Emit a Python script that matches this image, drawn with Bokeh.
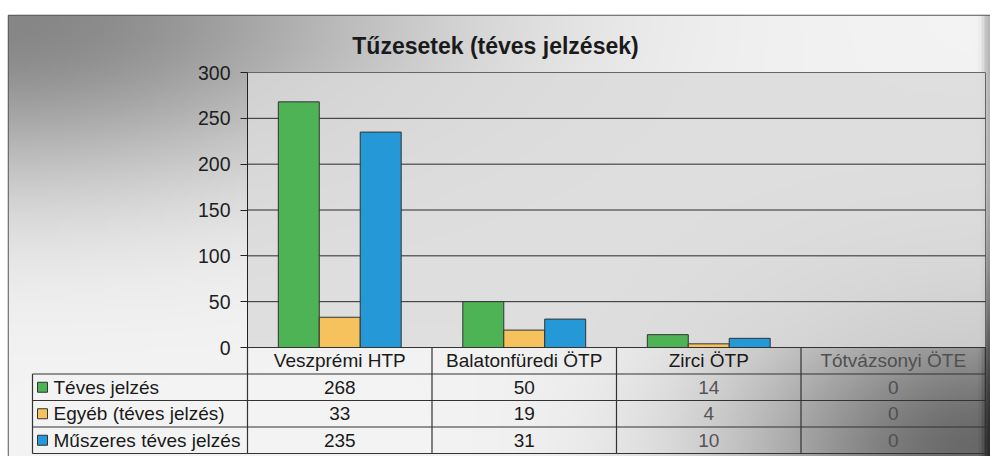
import numpy as np
from bokeh.plotting import figure
from bokeh.models import Range1d, FixedTicker, ColumnDataSource, Label
from bokeh.transform import dodge
from bokeh.core.properties import value
from bokeh.embed import file_html
from bokeh.resources import INLINE

# ---------------- data ----------------
categories = ["Veszprémi HTP", "Balatonfüredi ÖTP", "Zirci ÖTP", "Tótvázsonyi ÖTE"]
series_names = ["Téves jelzés", "Egyéb (téves jelzés)", "Műszeres téves jelzés"]
teves = [268, 50, 14, 0]
egyeb = [33, 19, 4, 0]
muszeres = [235, 31, 10, 0]
y_ticks = [0, 50, 100, 150, 200, 250, 300]
title_text = "Tűzesetek (téves jelzések)"

# ---------------- styles / layout ----------------
colors = ["#4db354", "#f5c25e", "#2599d8"]
FONT = "Liberation Sans"
W, H = 990, 456
FRAME_L, FRAME_R = 8, 990      # page px
FRAME_T, FRAME_B = 15, 456
AX_X, PLOT_R = 247, 985         # page x of category 0 and of the plot's right edge
ZERO_Y, TOP_Y = 347, 72         # page y of value 0 and top tick
ROW_H = 26.5

n = len(categories)
PXX = (PLOT_R - AX_X) / n
PXY = (ZERO_Y - TOP_Y) / y_ticks[-1]
XL = -(AX_X - FRAME_L) / PXX
XR = n + (FRAME_R - PLOT_R) / PXX
YB = -(FRAME_B - ZERO_Y) / PXY
YT = y_ticks[-1] + (TOP_Y - FRAME_T) / PXY
TB_BOTTOM = (FRAME_B - ZERO_Y) / ROW_H
TB_TOP = -(ZERO_Y - FRAME_T) / ROW_H


def wx(x):
    return XL + (x - FRAME_L) / PXX


def wy(y):
    return y_ticks[-1] + (TOP_Y - y) / PXY


p = figure(width=W, height=H, x_range=Range1d(XL, XR), y_range=Range1d(YB, YT),
           x_axis_location=None, y_axis_location="left", title=None,
           toolbar_location=None, output_backend="svg",
           min_border_left=FRAME_L, min_border_right=W - FRAME_R,
           min_border_bottom=H - FRAME_B, min_border_top=FRAME_T)
p.border_fill_color = "white"
p.background_fill_color = "white"
p.outline_line_color = "#555555"
p.outline_line_width = 1.5
p.xgrid.visible = False
p.ygrid.visible = False
p.extra_y_ranges = {"tbl": Range1d(start=TB_BOTTOM, end=TB_TOP)}

# background shading (scan-like gradient)
GW, GH = 330, 147
gx = np.linspace(FRAME_L, FRAME_R, GW)
gy = np.linspace(FRAME_B, FRAME_T, GH)
GX, GY = np.meshgrid(gx, gy)
g = (244 - 110 * np.exp(-(GX / 420) ** 2 - ((GY - 15) / 170) ** 2)
     - 140 * np.exp(-((GX - 990) / 250) ** 2 - ((GY - 456) / 170) ** 2)
     - 60 * np.exp(-((GX - 990) / 6) ** 2))
g = np.clip(g, 0, 255).astype(np.uint8)
img = np.empty((GH, GW), dtype=np.uint32)
view = img.view(dtype=np.uint8).reshape((GH, GW, 4))
view[..., 0] = g
view[..., 1] = g
view[..., 2] = g
view[..., 3] = 255
p.image_rgba(image=[img], x=XL, y=YB, dw=XR - XL, dh=YT - YB, level="image")

# plot area
p.quad(left=0, right=n, bottom=0, top=y_ticks[-1], fill_color="#dadada",
       fill_alpha=0.8, line_color="#666666", line_width=1, level="underlay")

# gridlines
gl = ColumnDataSource(dict(y=y_ticks[1:-1], x0=[0] * (len(y_ticks) - 2), x1=[n] * (len(y_ticks) - 2)))
p.segment(x0="x0", x1="x1", y0="y", y1="y", source=gl, line_color="#2a2a2a", line_width=1)

# y axis
ax = p.yaxis[0]
ax.fixed_location = 0
ax.bounds = (y_ticks[0], y_ticks[-1])
ax.ticker = FixedTicker(ticks=y_ticks)
ax.minor_tick_line_color = None
ax.major_tick_out = 7
ax.major_tick_in = 0
ax.axis_line_color = "#222222"
ax.major_tick_line_color = "#222222"
ax.major_label_text_font = FONT
ax.major_label_text_font_size = "19.5px"
ax.major_label_text_color = "#1e1e1e"
ax.major_label_standoff = 10

# bars
src = ColumnDataSource(dict(xc=[i + 0.5 for i in range(n)], teves=teves, egyeb=egyeb, muszeres=muszeres))
bw = 0.222
for k, (key, color) in enumerate(zip(["teves", "egyeb", "muszeres"], colors)):
    p.vbar(x=dodge("xc", (k - 1) * bw, range=p.x_range), top=key, width=bw, bottom=0,
           source=src, fill_color=color, line_color="#333333", line_width=1)

# data table
nrows = len(series_names)
LEG_L = wx(32)
vx = list(range(n + 1)) + [LEG_L]
vy0 = [0] * (n + 1) + [1]
vy1 = [nrows + 1] * (n + 2)
p.segment(x0=vx, x1=vx, y0=vy0, y1=vy1, y_range_name="tbl", line_color="#333333", line_width=1.2)
hy = list(range(1, nrows + 2)) + [0]
hx0 = [LEG_L] * (nrows + 1) + [0]
hx1 = [n] * (nrows + 2)
p.segment(x0=hx0, x1=hx1, y0=hy, y1=hy, y_range_name="tbl", line_color="#333333", line_width=1.2)

col_colors = ["#1a1a1a", "#1a1a1a", "#1a1a1a", "#505050"]
val_colors = ["#1a1a1a", "#1a1a1a", "#555555", "#505050"]
hdr = ColumnDataSource(dict(x=[i + 0.5 for i in range(n)], y=[0.5] * n, t=categories, c=col_colors))
p.text(x="x", y="y", text="t", source=hdr, y_range_name="tbl", text_align="center",
       text_baseline="middle", text_font=value(FONT), text_font_size="19px", text_color="c")

all_vals = [teves, egyeb, muszeres]
vx_, vy_, vt_, vc_ = [], [], [], []
for r, vals in enumerate(all_vals):
    for c, v in enumerate(vals):
        vx_.append(c + 0.5)
        vy_.append(r + 1.5)
        vt_.append(str(v))
        vc_.append(val_colors[c])
vals_src = ColumnDataSource(dict(x=vx_, y=vy_, t=vt_, c=vc_))
p.text(x="x", y="y", text="t", source=vals_src, y_range_name="tbl", text_align="center",
       text_baseline="middle", text_font=value(FONT), text_font_size="19px", text_color="c")

leg = ColumnDataSource(dict(y=[r + 1.5 for r in range(nrows)], t=series_names, c=colors))
p.scatter(x=wx(42), y="y", source=leg, y_range_name="tbl", marker="square", size=10,
          fill_color="c", line_color="#333333", line_width=1)
p.text(x=wx(53), y="y", text="t", source=leg, y_range_name="tbl", text_align="left",
       text_baseline="middle", text_font=value(FONT), text_font_size="19px", text_color="#1a1a1a")

# title
p.add_layout(Label(x=wx(495), y=wy(45), text=title_text, text_align="center",
                   text_baseline="middle", text_font=FONT, text_font_style="bold",
                   text_font_size="23px", text_color="#1a1a1a"))

open("out.html", "w").write(file_html(p, INLINE))
